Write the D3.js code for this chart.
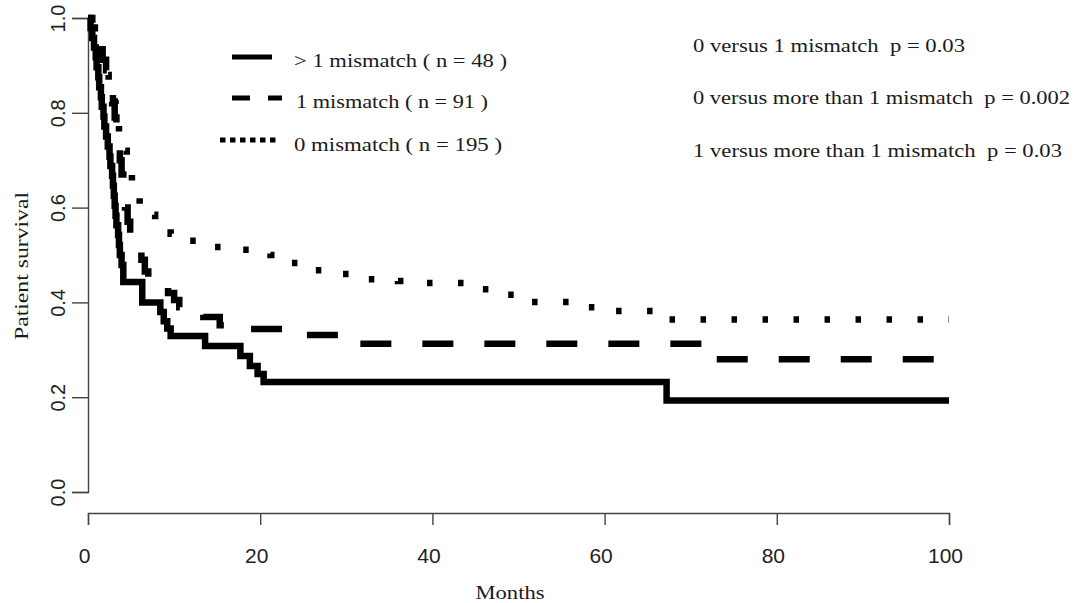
<!DOCTYPE html>
<html><head><meta charset="utf-8">
<script src="https://cdn.jsdelivr.net/npm/d3@7"></script>
<style>
html,body{margin:0;padding:0;background:#fff;}
svg{display:block;}
</style></head>
<body>
<svg id="chart" width="1084" height="603"></svg>
<script>
// ---- data ----
const gt1Months = [0,0.3,0.5,0.7,0.9,1.0,1.2,1.3,1.5,1.6,1.8,1.9,2.1,2.3,2.5,2.6,2.8,2.9,3.0,3.1,3.2,3.3,3.5,3.6,3.7,3.9,4.1,6.3,8.4,8.8,9.2,9.6,13.6,17.7,18.8,19.7,20.4,67.2,100];
const gt1Surv   = [1.0,0.979,0.958,0.938,0.917,0.896,0.875,0.854,0.833,0.813,0.792,0.771,0.750,0.729,0.708,0.688,0.667,0.646,0.625,0.604,0.583,0.563,0.542,0.521,0.500,0.479,0.443,0.40,0.38,0.36,0.345,0.329,0.308,0.287,0.266,0.249,0.232,0.193,0.193];

const oneMonths = [0,0.5,0.9,1.3,1.7,2.1,2.4,2.6,2.9,3.1,3.3,3.5,3.7,3.9,4.1,4.3,4.6,4.9,5.6,6.2,6.6,7.0,9.3,10.0,10.6,13.4,15.3,18.5,24.5,30.5,71.3,100];
const oneSurv   = [1.0,0.978,0.956,0.934,0.912,0.89,0.868,0.846,0.824,0.79,0.76,0.73,0.70,0.67,0.64,0.60,0.57,0.545,0.52,0.49,0.465,0.447,0.42,0.405,0.39,0.369,0.352,0.344,0.331,0.313,0.28,0.28];

const zeroMonths = [0,0.4,0.8,1.2,1.6,2.0,2.4,2.8,3.2,3.6,4.1,4.5,4.8,5.1,5.6,6.0,7.0,7.8,8.8,9.6,11.5,14.5,18,21.2,23.5,26.3,29.5,32.5,36,39,45,48.5,51.2,57.5,60.5,67.2,100];
const zeroSurv   = [1.0,0.98,0.96,0.94,0.91,0.88,0.85,0.82,0.78,0.75,0.72,0.70,0.67,0.65,0.625,0.605,0.585,0.574,0.56,0.545,0.53,0.517,0.511,0.50,0.483,0.468,0.46,0.449,0.445,0.441,0.428,0.416,0.401,0.39,0.382,0.364,0.364];

const xTicks = [0,20,40,60,80,100];
const yTicks = [0,0.2,0.4,0.6,0.8,1.0];
const legendLabels = ["> 1 mismatch ( n = 48 )","1 mismatch ( n = 91 )","0 mismatch ( n = 195 )"];
const pLabels = ["0 versus 1 mismatch  p = 0.03","0 versus more than 1 mismatch  p = 0.002","1 versus more than 1 mismatch  p = 0.03"];
const xTitle = "Months";
const yTitle = "Patient survival";

// ---- chart ----
const svg = d3.select("#chart");
const x = d3.scaleLinear().domain([0,100]).range([88,949]);
const y = d3.scaleLinear().domain([0,1]).range([492,18]);

const serif = "'Liberation Serif','Times New Roman',serif";
const sans = "'Liberation Sans',Arial,sans-serif";
const ink = "#1a1a1a";

// x axis (detached, R style)
const xa = svg.append("g").attr("transform","translate(0,513)")
  .call(d3.axisBottom(x).tickValues(xTicks).tickFormat(d3.format("d")).tickSize(12).tickPadding(23));
xa.select(".domain").attr("stroke","#444").attr("stroke-width",1.4);
xa.selectAll(".tick line").attr("stroke","#444").attr("stroke-width",1.4);
xa.selectAll("text").attr("font-family",sans).attr("font-size",21).attr("fill","#222")
  .attr("dx",-4);

// y axis
const ya = svg.append("g").attr("transform","translate(88,0)")
  .call(d3.axisLeft(y).tickValues(yTicks).tickFormat(d3.format(".1f")).tickSize(16).tickPadding(0));
ya.select(".domain").attr("stroke","#444").attr("stroke-width",1.4);
ya.selectAll(".tick line").attr("stroke","#444").attr("stroke-width",1.4);
ya.selectAll(".tick text").attr("font-family",sans).attr("font-size",20).attr("fill","#222")
  .attr("text-anchor","middle").attr("x",0).attr("dy",0)
  .attr("transform","translate(-30,0) rotate(-90)").attr("y",0).attr("dominant-baseline","central");

// titles
svg.append("text").attr("x",510).attr("y",599).attr("text-anchor","middle")
  .attr("font-family",serif).attr("font-size",19).attr("fill",ink)
  .attr("textLength",69).attr("lengthAdjust","spacingAndGlyphs").text(xTitle);
svg.append("text").attr("transform","translate(28,266) rotate(-90)").attr("text-anchor","middle")
  .attr("font-family",serif).attr("font-size",19).attr("fill",ink)
  .attr("textLength",148).attr("lengthAdjust","spacingAndGlyphs").text(yTitle);

// curves
const line = d3.line().x(d=>x(d[0])).y(d=>y(d[1])).curve(d3.curveStepAfter);
const series = [
  {m:gt1Months, s:gt1Surv, dash:null, off:0},
  {m:oneMonths, s:oneSurv, dash:"31,31", off:22},
  {m:zeroMonths, s:zeroSurv, dash:"5.5,25.5", off:16}
];
series.forEach(se=>{
  const pts = se.m.map((t,i)=>[t,se.s[i]]);
  const p = svg.append("path").datum(pts).attr("d",line)
    .attr("fill","none").attr("stroke","#000").attr("stroke-width",6.5)
    .attr("stroke-linejoin","miter");
  if(se.dash) p.attr("stroke-dasharray",se.dash).attr("stroke-dashoffset",se.off);
});

// legend
const lg = svg.append("g");
lg.append("line").attr("x1",232).attr("x2",272).attr("y1",57).attr("y2",57)
  .attr("stroke","#000").attr("stroke-width",5);
lg.append("line").attr("x1",232).attr("x2",282).attr("y1",98).attr("y2",98)
  .attr("stroke","#000").attr("stroke-width",5).attr("stroke-dasharray","18,18");
lg.append("line").attr("x1",220).attr("x2",280).attr("y1",140).attr("y2",140)
  .attr("stroke","#000").attr("stroke-width",5).attr("stroke-dasharray","5.5,4.5");
const lgx = [294,296,294], lgy = [67,108,151], lgw = [213,192,208];
legendLabels.forEach((t,i)=>{
  lg.append("text").attr("x",lgx[i]).attr("y",lgy[i]).attr("font-family",serif)
    .attr("font-size",19).attr("fill",ink)
    .attr("textLength",lgw[i]).attr("lengthAdjust","spacingAndGlyphs").text(t);
});

// p-value annotations
const py = [52,104,157], pw = [272,377,369];
pLabels.forEach((t,i)=>{
  svg.append("text").attr("x",693).attr("y",py[i]).attr("font-family",serif)
    .attr("font-size",18.5).attr("fill",ink).style("white-space","pre")
    .attr("textLength",pw[i]).attr("lengthAdjust","spacingAndGlyphs").text(t);
});
</script>
</body></html>
